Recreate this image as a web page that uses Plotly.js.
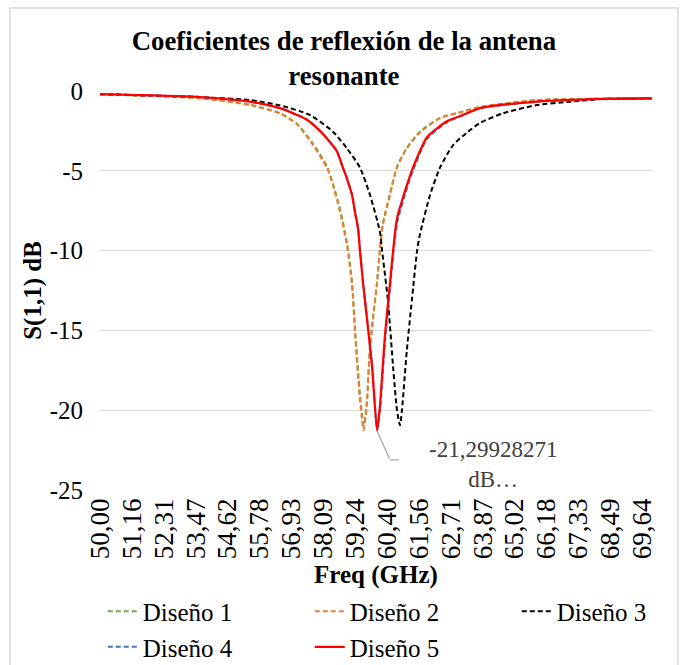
<!DOCTYPE html>
<html>
<head>
<meta charset="utf-8">
<script src="https://cdn.plot.ly/plotly-3.0.1.min.js"></script>
<style>
html,body{margin:0;padding:0;background:#fff;}
svg text{font-family:'Liberation Serif','Times New Roman',serif !important;}
</style>
</head>
<body>
<div id="chart" style="width:681px;height:665px;"></div>
<script>
// Tick labels of the original chart
const tickLabels = ["50,00","51,16","52,31","53,47","54,62","55,78","56,93","58,09","59,24","60,40","61,56","62,71","63,87","65,02","66,18","67,33","68,49","69,64"];
const yTickLabels = ["0", "-5", "-10", "-15", "-20", "-25"];

// Diseño 1 (green)
const freq1 = [50, 53.62, 55.43, 56.52, 57.14, 57.72, 58.22, 58.44, 58.70, 58.95, 59.13, 59.24, 59.42, 59.56, 59.67, 59.78, 60.04, 60.14, 60.25, 60.51, 60.76, 61.12, 61.59, 62.32, 63.15, 63.77, 65.83, 68.22, 70];
const s11_1 = [-0.2, -0.45, -0.86, -1.38, -2.05, -3.3, -4.7, -5.8, -7.4, -9.5, -11.9, -14.8, -19.0, -20.95, -19.4, -16.0, -11.9, -9.9, -8.3, -6.4, -4.75, -3.55, -2.55, -1.68, -1.28, -1.0, -0.57, -0.48, -0.46];

// Diseño 2 (orange)
const freq2 = [50, 53.62, 55.43, 56.52, 57.14, 57.72, 58.22, 58.44, 58.70, 58.95, 59.13, 59.24, 59.42, 59.55, 59.67, 59.78, 60.04, 60.14, 60.25, 60.51, 60.76, 61.12, 61.59, 62.32, 63.15, 63.77, 65.83, 68.22, 70];
const s11_2 = [-0.2, -0.46, -0.88, -1.4, -2.1, -3.4, -4.8, -5.9, -7.6, -9.7, -12.2, -15.2, -19.4, -21.25, -19.6, -16.2, -12.0, -10.0, -8.4, -6.5, -4.8, -3.6, -2.6, -1.7, -1.3, -1.0, -0.57, -0.48, -0.46];

// Diseño 3 (black)
const freq3 = [50, 53.62, 55.43, 56.52, 57.6, 58.44, 58.95, 59.42, 59.78, 60.14, 60.22, 60.43, 60.62, 60.76, 60.87, 60.94, 61.12, 61.30, 61.49, 61.59, 61.96, 62.32, 62.79, 63.30, 63.77, 64.60, 65.83, 67.03, 68.22, 70];
const s11_3 = [-0.2, -0.38, -0.57, -0.9, -1.5, -2.55, -3.6, -4.8, -6.5, -8.8, -10.0, -13.1, -17.3, -20.0, -20.95, -20.0, -16.2, -13.1, -10.0, -9.0, -6.5, -4.8, -3.4, -2.6, -2.0, -1.4, -0.88, -0.67, -0.5, -0.46];

// Diseño 4 (blue)
const freq4 = [50, 53.62, 55.43, 56.52, 57.14, 57.5, 57.97, 58.33, 58.59, 58.8, 58.95, 59.13, 59.24, 59.35, 59.42, 59.53, 59.67, 59.86, 60.04, 60.14, 60.33, 60.51, 60.62, 60.76, 61.12, 61.34, 61.85, 62.57, 63.15, 63.77, 65.83, 68.22, 70];
const s11_4 = [-0.2, -0.38, -0.67, -1.07, -1.5, -1.8, -2.5, -3.2, -3.8, -4.8, -5.5, -6.5, -7.6, -8.6, -10.0, -12.0, -14.2, -17.3, -21.2, -20.0, -15.6, -12.3, -10.3, -8.3, -6.1, -5.0, -3.0, -1.95, -1.52, -1.08, -0.67, -0.5, -0.46];

// Diseño 5 (red)
const freq5 = [50, 53.62, 55.43, 56.52, 57.14, 57.5, 57.97, 58.33, 58.59, 58.8, 58.95, 59.13, 59.24, 59.35, 59.42, 59.53, 59.67, 59.86, 60.04, 60.14, 60.33, 60.51, 60.62, 60.76, 61.12, 61.34, 61.85, 62.57, 63.15, 63.77, 65.83, 68.22, 70];
const s11_5 = [-0.2, -0.38, -0.67, -1.07, -1.5, -1.8, -2.5, -3.2, -3.8, -4.8, -5.5, -6.5, -7.6, -8.6, -10.0, -12.0, -14.2, -17.3, -21.29928271, -19.8, -15.2, -12.0, -10.0, -8.0, -5.9, -4.8, -2.9, -1.9, -1.5, -1.07, -0.67, -0.5, -0.46];

const names = ["Diseño 1", "Diseño 2", "Diseño 3", "Diseño 4", "Diseño 5"];
const labelText = "-21,29928271<br>dB…";

const FF = "Liberation Serif";
const DASHED = "5px,3px";

function makeTrace(x, y, name, color, dash, width, legendId) {
  return {
    x: x, y: y, name: name, type: "scatter", mode: "lines", legend: legendId,
    line: {color: color, width: width, dash: dash, shape: "spline", smoothing: 0.6}
  };
}

const traces = [
  makeTrace(freq1, s11_1, names[0], "#70ad47", DASHED, 2, "legend"),
  makeTrace(freq2, s11_2, names[1], "#ed7d31", DASHED, 2, "legend2"),
  makeTrace(freq3, s11_3, names[2], "#000000", DASHED, 2, "legend3"),
  makeTrace(freq4, s11_4, names[3], "#4472c4", DASHED, 2, "legend"),
  makeTrace(freq5, s11_5, names[4], "#ff0000", "solid", 2.25, "legend2")
];

let iMin = 0;
s11_5.forEach((v, i) => { if (v < s11_5[iMin]) iMin = i; });
const xm = freq5[iMin], ym = s11_5[iMin];

const tickVals = tickLabels.map(s => parseFloat(s.replace(",", ".")));
const yTickVals = yTickLabels.map(Number);

function legendAt(xp) {
  return {
    orientation: "v", x: xp, xanchor: "left", xref: "paper",
    y: 0.115, yanchor: "top", yref: "container",
    font: {family: FF, size: 25, color: "#000"}, tracegroupgap: 0,
    bgcolor: "rgba(0,0,0,0)", traceorder: "normal"
  };
}

const chartLayout = {
  width: 681, height: 665,
  margin: {l: 100, r: 29, t: 91, b: 175, autoexpand: false},
  paper_bgcolor: "#ffffff", plot_bgcolor: "#ffffff",
  font: {family: FF, size: 25, color: "#000000"},
  title: {
    text: "<b>Coeficientes de reflexión de la antena<br>resonante</b>",
    font: {family: FF, size: 26.8, color: "#000000"},
    x: 0.505, xanchor: "center", xref: "container",
    y: 0.925, yanchor: "top", yref: "container"
  },
  xaxis: {
    range: [50, 70], tickmode: "array", tickvals: tickVals, ticktext: tickLabels,
    tickangle: -90, showgrid: false, zeroline: false, showline: false,
    ticks: "", ticklabelstandoff: 2, tickfont: {family: FF, size: 27, color: "#000"},
    title: {text: "<b>Freq (GHz)</b>", font: {family: FF, size: 25, color: "#000"}, standoff: 10}
  },
  yaxis: {
    range: [-25, 0], tickmode: "array", tickvals: yTickVals, ticktext: yTickLabels,
    showgrid: true, gridcolor: "#d9d9d9", gridwidth: 1.3,
    zeroline: false, showline: false, ticks: "", ticklabelstandoff: 16,
    tickfont: {family: FF, size: 25, color: "#000"},
    title: {text: "<b>S(1,1) dB</b>", font: {family: FF, size: 25, color: "#000"}, standoff: 0}
  },
  legend: legendAt(0.005),
  legend2: legendAt(0.38),
  legend3: legendAt(0.755),
  shapes: [
    {type: "rect", xref: "paper", yref: "paper", x0: -0.163, x1: 1.047, y0: -0.5, y1: 1.208,
     line: {color: "#d9d9d9", width: 1.5}, fillcolor: "rgba(0,0,0,0)", layer: "below"}
  ],
  annotations: [
    {x: xm, y: ym, xref: "x", yref: "y", text: labelText, showarrow: true,
     arrowcolor: "rgba(0,0,0,0)", ax: 116, ay: 34, align: "center",
     font: {family: FF, size: 23, color: "#404040"}},
    {x: xm, y: ym, xref: "x", yref: "y", text: "", showarrow: true, arrowhead: 0,
     arrowcolor: "#a6a6a6", arrowwidth: 1.3, ax: 13, ay: 29},
    {x: xm, y: ym, xref: "x", yref: "y", text: "", showarrow: true, arrowhead: 0,
     arrowcolor: "#a6a6a6", arrowwidth: 1.3, xshift: 13, yshift: -29, ax: 10, ay: 0}
  ],
  showlegend: true
};

Plotly.newPlot("chart", traces, chartLayout, {displayModeBar: false});
</script>
</body>
</html>
